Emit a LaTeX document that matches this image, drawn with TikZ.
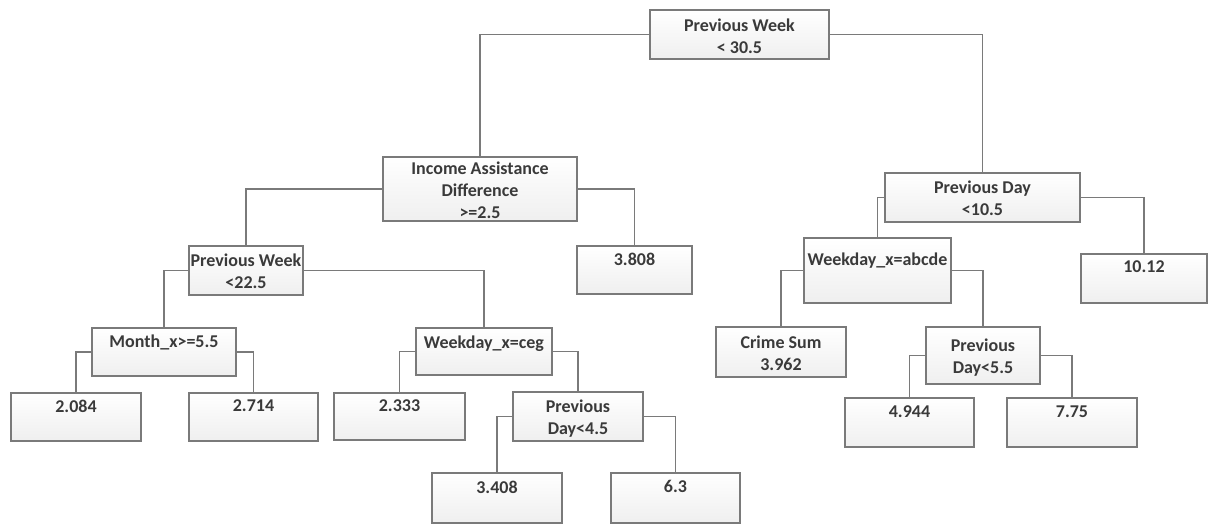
\documentclass[tikz,border=0pt]{standalone}
\usepackage{fontspec}
\setmainfont{Carlito}
\usetikzlibrary{calc,shadows}
\definecolor{edgegray}{HTML}{7A7A7A}
\definecolor{txtgray}{HTML}{3A3A3A}
\definecolor{boxbot}{HTML}{EFEFEF}
\tikzset{
  box/.style={draw=edgegray, line width=1.3pt, top color=white, bottom color=boxbot,
    shading angle=0, inner sep=0pt, outer sep=0pt,
    drop shadow={opacity=0.15, shadow xshift=1.2pt, shadow yshift=-1.2pt}},
  lbl/.style={font=\bfseries\fontsize{18}{22}\selectfont, text=txtgray, align=center, inner sep=0pt},
  conn/.style={draw=edgegray, line width=1.3pt}
}
% name, x1, y1, x2, y2, first-line offset, text
\newcommand\tbox[7]{%
  \node[box, anchor=north west, minimum width={(#4-#2)*1pt}, minimum height={(#5-#3)*1pt}] (#1) at (#2,#3) {};
  \node[lbl, anchor=north] (#1t) at ($(#1.north)+(0,#6-6.5)$) {#7};
}
\begin{document}
\begin{tikzpicture}[x=1pt,y=-1pt]
\useasboundingbox (0,0) rectangle (1210,525);
\tbox{root}{650}{10}{829}{59}{15}{Previous Week\\< 30.5}
\tbox{inc}{383}{157}{577}{221}{11}{Income Assistance\\Difference\\>=2.5}
\tbox{pwb}{189}{246}{303}{295}{14}{Previous Week\\<22.5}
\tbox{vA}{577}{246}{692}{294}{13}{3.808}
\tbox{pdA}{885}{173}{1080}{222}{14}{Previous Day\\<10.5}
\tbox{wab}{804}{238}{951}{303}{21}{Weekday\_x=abcde}
\tbox{vB}{1081}{254}{1207}{303}{13}{10.12}
\tbox{mon}{92}{328}{236}{376}{13}{Month\_x>=5.5}
\tbox{ceg}{416}{328}{552}{375}{14}{Weekday\_x=ceg}
\tbox{vC}{11}{393}{141}{441}{13}{2.084}
\tbox{vD}{189}{393}{318}{441}{13}{2.714}
\tbox{vE}{334}{393}{465}{440}{13}{2.333}
\tbox{pdB}{513}{392}{643}{441}{14}{Previous\\Day<4.5}
\tbox{vF}{432}{473}{562}{523}{14}{3.408}
\tbox{vG}{611}{473}{740}{523}{14}{6.3}
\tbox{crime}{716}{327}{846}{377}{15}{Crime Sum\\3.962}
\tbox{pdC}{926}{327}{1040}{384}{18}{Previous\\Day<5.5}
\tbox{vH}{845}{398}{974}{447}{14}{4.944}
\tbox{vI}{1007}{398}{1137}{447}{14}{7.75}

\draw[conn] (root.west) -| (inc.north);
\draw[conn] (root.east) -| (pdA.north);
\draw[conn] (inc.west) -| (pwb.north);
\draw[conn] (inc.east) -| (vA.north);
\draw[conn] (pwb.west) -| (mon.north);
\draw[conn] (pwb.east) -| (ceg.north);
\draw[conn] (mon.west) -| (vC.north);
\draw[conn] (mon.east) -| (vD.north);
\draw[conn] (ceg.west) -| (vE.north);
\draw[conn] (ceg.east) -| (pdB.north);
\draw[conn] (pdB.west) -| (vF.north);
\draw[conn] (pdB.east) -| (vG.north);
\draw[conn] (pdA.west) -| (wab.north);
\draw[conn] (pdA.east) -| (vB.north);
\draw[conn] (wab.west) -| (crime.north);
\draw[conn] (wab.east) -| (pdC.north);
\draw[conn] (pdC.west) -| (vH.north);
\draw[conn] (pdC.east) -| (vI.north);
\end{tikzpicture}
\end{document}
